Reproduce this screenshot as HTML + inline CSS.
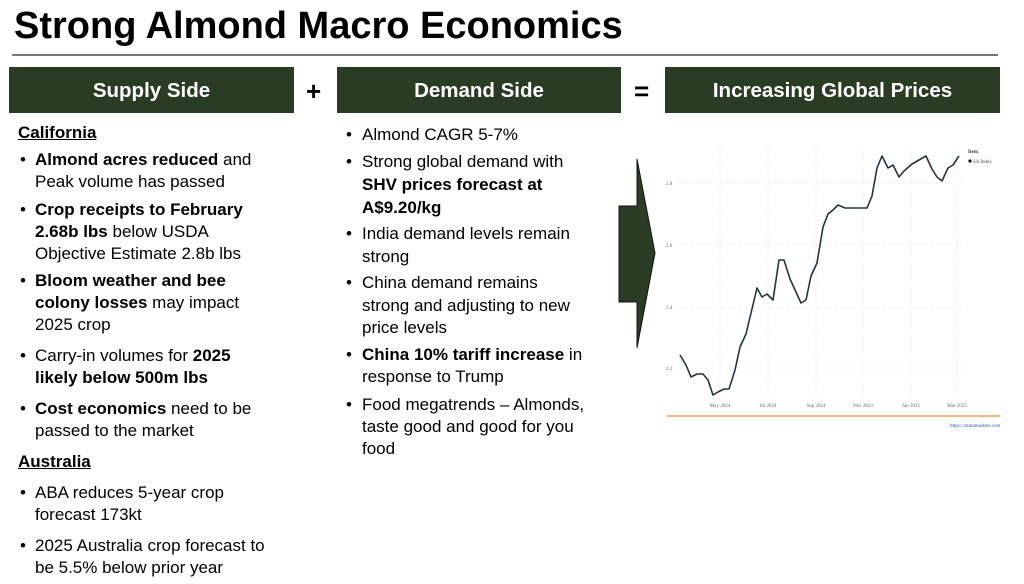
<!DOCTYPE html>
<html><head><meta charset="utf-8"><style>
body{margin:0;width:1024px;height:584px;background:#fff;position:relative;overflow:hidden;font-family:"Liberation Sans",Arial,sans-serif;color:#000}
.a{position:absolute;white-space:nowrap}
.t{font-size:17px;line-height:20px}
.h{position:absolute;top:67px;height:46px;background:#2a3d24;color:#fff;font-weight:bold;font-size:20.5px;line-height:48px;text-align:center}
.op{position:absolute;top:76px;font-size:26px;font-weight:bold}
</style></head><body>
<div class="a" style="left:14px;top:4px;font-size:38px;font-weight:bold;line-height:44px">Strong Almond Macro Economics</div>
<div class="a" style="left:12px;top:54px;width:986px;height:2px;background:#777"></div>
<div class="h" style="left:9px;width:285px">Supply Side</div>
<div class="op" style="left:306px">+</div>
<div class="h" style="left:337px;width:284px">Demand Side</div>
<div class="op" style="left:634px">=</div>
<div class="h" style="left:665px;width:335px">Increasing Global Prices</div>

<div class="a t" style="left:18px;top:123px;font-weight:bold;text-decoration:underline">California</div>
<div class="a t" style="left:20px;top:150px">•</div>
<div class="a t" style="left:35px;top:150px"><b>Almond acres reduced</b> and</div>
<div class="a t" style="left:35px;top:172px">Peak volume has passed</div>
<div class="a t" style="left:20px;top:200px">•</div>
<div class="a t" style="left:35px;top:200px"><b>Crop receipts to February</b></div>
<div class="a t" style="left:35px;top:222px"><b>2.68b lbs</b> below USDA</div>
<div class="a t" style="left:35px;top:244px">Objective Estimate 2.8b lbs</div>
<div class="a t" style="left:20px;top:271px">•</div>
<div class="a t" style="left:35px;top:271px"><b>Bloom weather and bee</b></div>
<div class="a t" style="left:35px;top:293px"><b>colony losses</b> may impact</div>
<div class="a t" style="left:35px;top:315px">2025 crop</div>
<div class="a t" style="left:20px;top:346px">•</div>
<div class="a t" style="left:35px;top:346px">Carry-in volumes for <b>2025</b></div>
<div class="a t" style="left:35px;top:368px"><b>likely below 500m lbs</b></div>
<div class="a t" style="left:20px;top:399px">•</div>
<div class="a t" style="left:35px;top:399px"><b>Cost economics</b> need to be</div>
<div class="a t" style="left:35px;top:421px">passed to the market</div>
<div class="a t" style="left:18px;top:452px;font-weight:bold;text-decoration:underline">Australia</div>
<div class="a t" style="left:20px;top:483px">•</div>
<div class="a t" style="left:35px;top:483px">ABA reduces 5-year crop</div>
<div class="a t" style="left:35px;top:505px">forecast 173kt</div>
<div class="a t" style="left:20px;top:536px">•</div>
<div class="a t" style="left:35px;top:536px">2025 Australia crop forecast to</div>
<div class="a t" style="left:35px;top:558px">be 5.5% below prior year</div>

<div class="a t" style="left:346px;top:125px">•</div>
<div class="a t" style="left:362px;top:125px">Almond CAGR 5-7%</div>
<div class="a t" style="left:346px;top:152px">•</div>
<div class="a t" style="left:362px;top:152px">Strong global demand with</div>
<div class="a t" style="left:362px;top:175px"><b>SHV prices forecast at</b></div>
<div class="a t" style="left:362px;top:198px"><b>A$9.20/kg</b></div>
<div class="a t" style="left:346px;top:224px">•</div>
<div class="a t" style="left:362px;top:224px">India demand levels remain</div>
<div class="a t" style="left:362px;top:247px">strong</div>
<div class="a t" style="left:346px;top:273px">•</div>
<div class="a t" style="left:362px;top:273px">China demand remains</div>
<div class="a t" style="left:362px;top:296px">strong and adjusting to new</div>
<div class="a t" style="left:362px;top:318px">price levels</div>
<div class="a t" style="left:346px;top:345px">•</div>
<div class="a t" style="left:362px;top:345px"><b>China 10% tariff increase</b> in</div>
<div class="a t" style="left:362px;top:367px">response to Trump</div>
<div class="a t" style="left:346px;top:395px">•</div>
<div class="a t" style="left:362px;top:395px">Food megatrends – Almonds,</div>
<div class="a t" style="left:362px;top:417px">taste good and good for you</div>
<div class="a t" style="left:362px;top:439px">food</div>

<svg class="a" style="left:0;top:0" width="1024" height="584" font-family="Liberation Serif,serif">
<polygon points="619,206 637,206 637,159 655,253 637,348 637,302 619,302" fill="#2a3d24" stroke="#111" stroke-width="1"/>
<g stroke="#e6e6e6" stroke-dasharray="1,2" stroke-width="1">
<line x1="678" y1="183" x2="963" y2="183"/><line x1="678" y1="245" x2="963" y2="245"/>
<line x1="678" y1="307" x2="963" y2="307"/><line x1="678" y1="368" x2="963" y2="368"/>
<line x1="720" y1="150" x2="720" y2="398"/><line x1="768" y1="150" x2="768" y2="398"/>
<line x1="816" y1="150" x2="816" y2="398"/><line x1="863" y1="150" x2="863" y2="398"/>
<line x1="911" y1="150" x2="911" y2="398"/><line x1="957" y1="150" x2="957" y2="398"/>
</g>
<g font-size="5" fill="#666">
<text x="666" y="185">2.8</text><text x="666" y="247">2.6</text><text x="666" y="309">2.4</text><text x="666" y="370">2.2</text>
<g text-anchor="middle"><text x="720" y="407">May 2024</text><text x="768" y="407">Jul 2024</text><text x="816" y="407">Sep 2024</text><text x="863" y="407">Nov 2024</text><text x="911" y="407">Jan 2025</text><text x="957" y="407">Mar 2025</text></g>
</g>
<polyline fill="none" stroke="#26343a" stroke-width="1.6" stroke-linejoin="round" points="680,355 686,365 691,377 697,374 703,374 708,380 713,395 718,392 724,389 729,389 735,370 740,347 746,334 751,313 757,288 762,297 767,294 773,300 779,260 784,260 790,279 801,303 806,300 811,276 817,263 823,227 828,214 833,210 838,205 845,208 867,208 872,196 877,168 882,156 888,168 893,165 899,177 904,171 912,164 926,156 932,169 937,177 942,181 948,168 953,165 959,156"/>
<text x="968" y="153" font-size="5" font-weight="bold" fill="#333">Item</text>
<circle cx="970" cy="161" r="1.6" fill="#111"/>
<text x="973" y="163" font-size="5" fill="#444">SA Index</text>
<line x1="667" y1="416" x2="1000" y2="416" stroke="#f0a055" stroke-width="1.5"/>
<text x="950" y="427" font-size="5" fill="#3355aa">https://stratamarkets.com</text>
</svg>
</body></html>
